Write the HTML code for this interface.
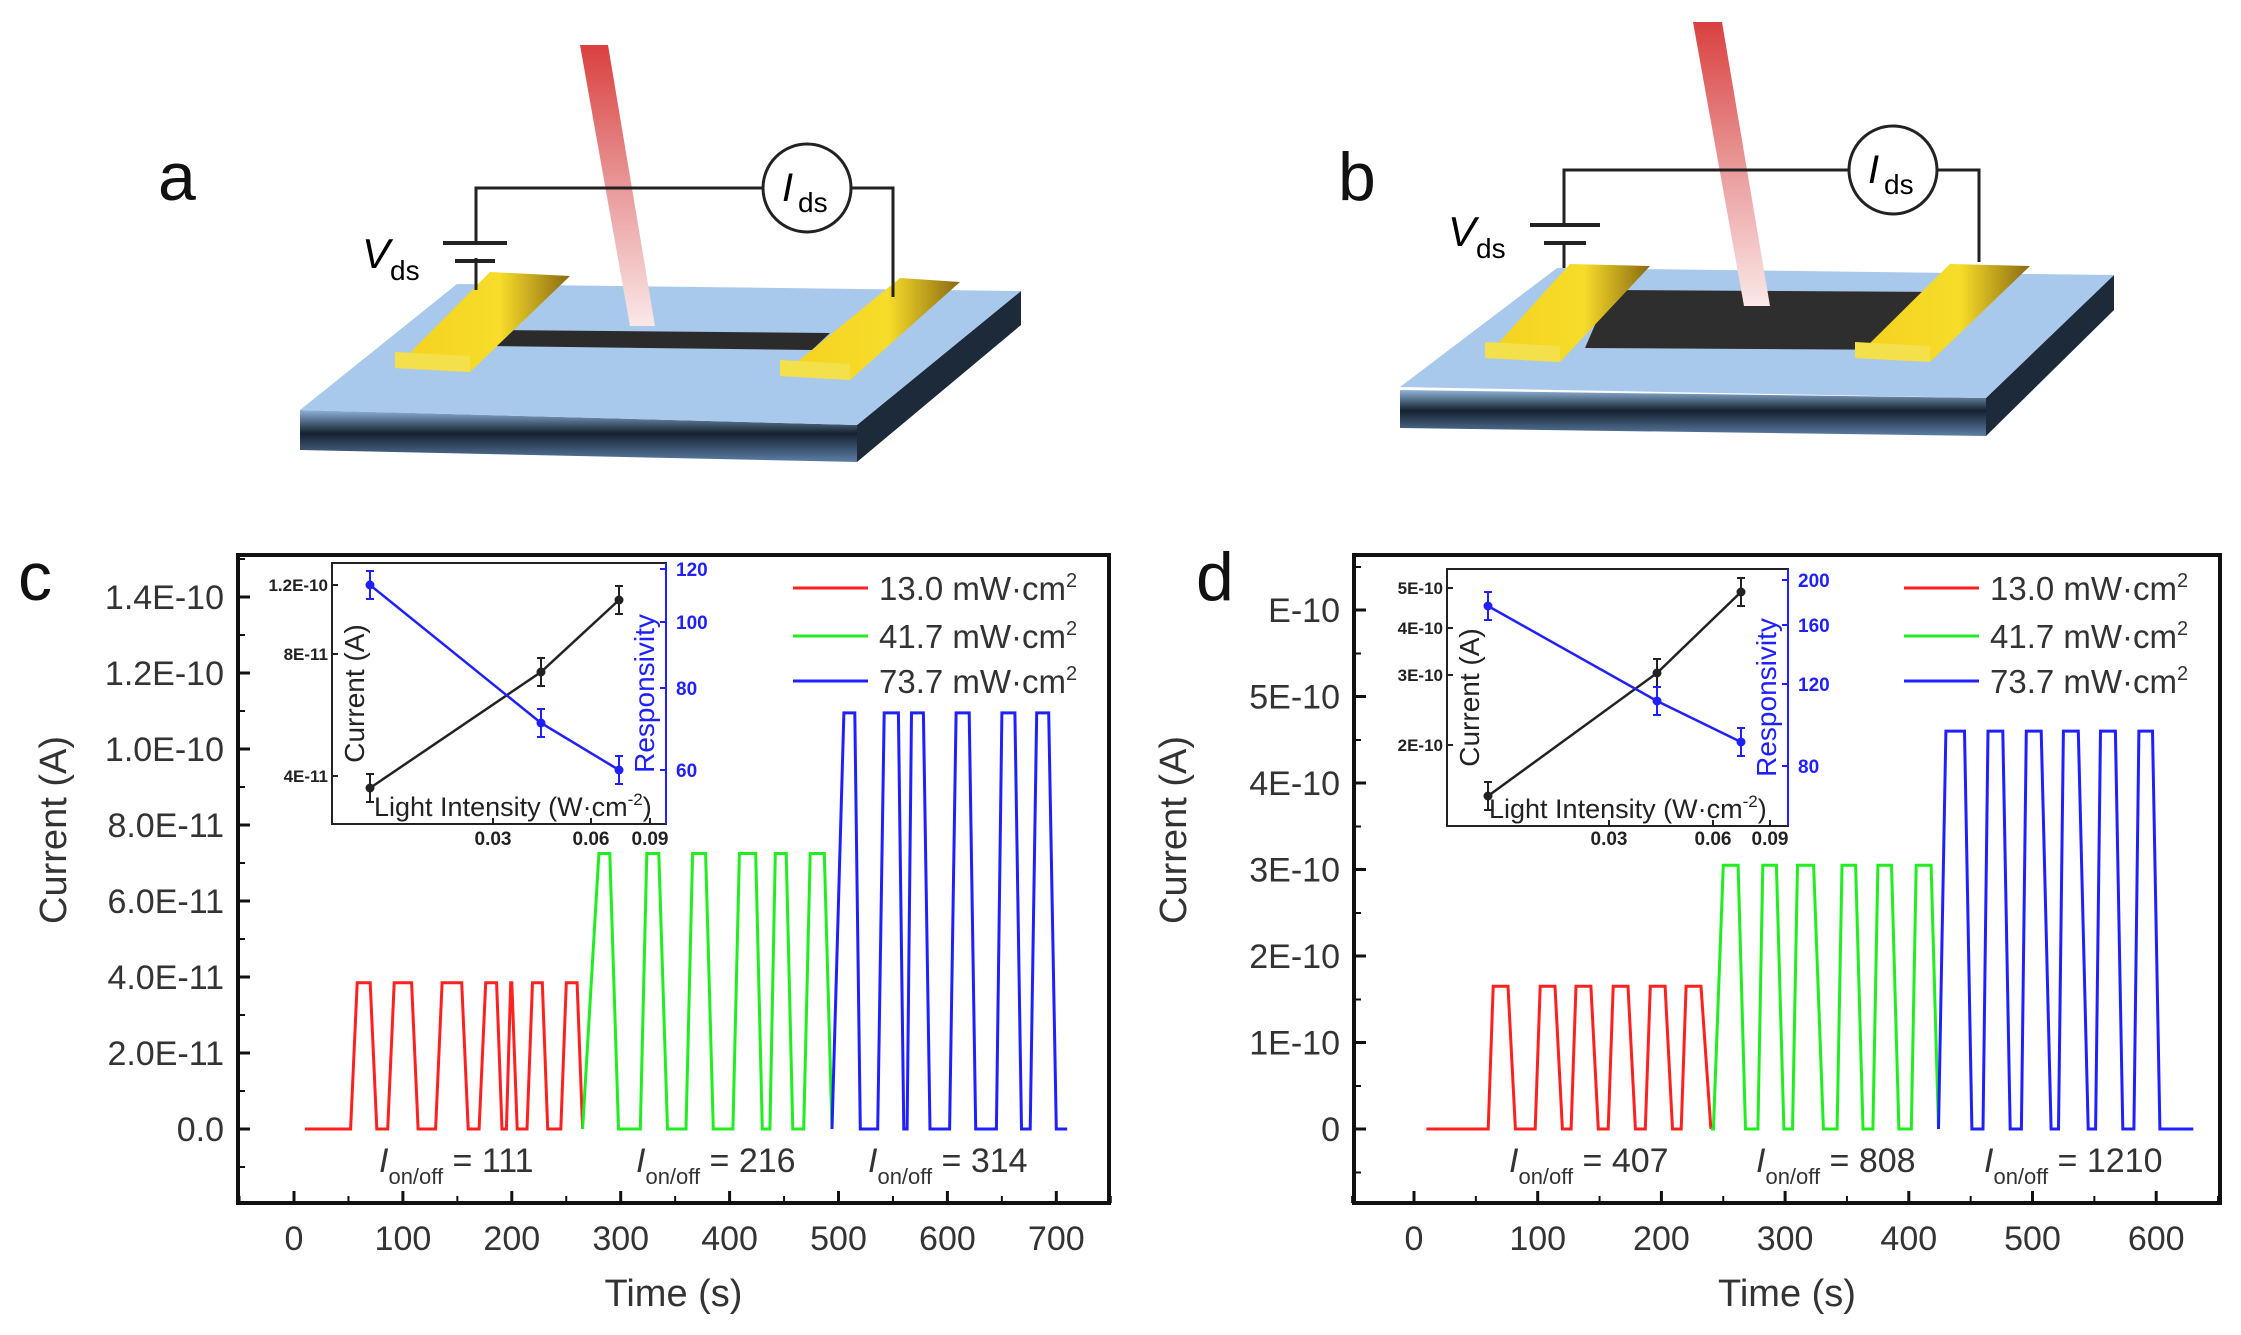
<!DOCTYPE html>
<html><head><meta charset="utf-8"><style>
html,body{margin:0;padding:0;background:#fff;}
svg{display:block;font-family:"Liberation Sans",Arial,sans-serif;}
</style></head><body>
<svg id="s" width="2241" height="1335" viewBox="0 0 2241 1335" xmlns="http://www.w3.org/2000/svg">
<defs>
<linearGradient id="beam" x1="0" y1="0" x2="0" y2="1"><stop offset="0" stop-color="#d9403f"/><stop offset="0.55" stop-color="#eaa0a0"/><stop offset="1" stop-color="#fbe8e8"/></linearGradient>
<linearGradient id="gold" x1="0" y1="0" x2="1" y2="0"><stop offset="0" stop-color="#f4d21e"/><stop offset="0.6" stop-color="#f7dc2a"/><stop offset="1" stop-color="#8a6a10"/></linearGradient>
<linearGradient id="edge" x1="0" y1="0" x2="0" y2="1"><stop offset="0" stop-color="#8fb3d9"/><stop offset="0.45" stop-color="#14202e"/><stop offset="1" stop-color="#5d7fa6"/></linearGradient>
</defs>
<g id="top">
<!-- panel a -->
<text x="158" y="200" font-size="68" fill="#111">a</text>
<polygon points="300,410 857,425 857,462 300,450" fill="url(#edge)"/>
<polygon points="857,425 1021,291 1021,325 857,462" fill="#1c2a3a"/>
<polygon points="457,284 1021,291 857,425 300,410" fill="#a9c9ec"/>
<polygon points="500,330 830,333 812,350 485,346" fill="#2b2b2b"/>
<polygon points="490,272 570,276 470,372 395,368" fill="url(#gold)"/>
<polygon points="395,352 470,356 470,372 395,368" fill="#f3e04a"/>
<polygon points="900,278 960,282 850,380 780,376" fill="url(#gold)"/>
<polygon points="780,360 850,364 850,380 780,376" fill="#f3e04a"/>
<polygon points="580,45 608,45 655,326 630,326" fill="url(#beam)"/>
<path d="M476,290 V258 M476,243 V188 H763 M851,188 H893 V297" stroke="#222" stroke-width="3" fill="none"/>
<path d="M443,243 H507 M455,261 H495" stroke="#222" stroke-width="4"/>
<path d="M476,261 V290" stroke="#222" stroke-width="3"/>
<circle cx="807" cy="188" r="44" fill="#fff" stroke="#222" stroke-width="3"/>
<text x="782" y="201" font-size="40" font-style="italic">I</text><text x="798" y="212" font-size="28">ds</text>
<text x="362" y="268" font-size="42" font-style="italic">V</text><text x="390" y="280" font-size="28">ds</text>
<!-- panel b -->
<text x="1338" y="200" font-size="68" fill="#111">b</text>
<polygon points="1400,390 1986,398 1986,436 1400,428" fill="url(#edge)"/>
<polygon points="1986,398 2114,275 2114,310 1986,436" fill="#1c2a3a"/>
<polygon points="1557,268 2114,275 1986,398 1400,387" fill="#a9c9ec"/>
<polygon points="1610,290 1950,292 1930,350 1585,348" fill="#2e2e2e"/>
<polygon points="1570,264 1650,266 1560,362 1485,358" fill="url(#gold)"/>
<polygon points="1485,342 1560,346 1560,362 1485,358" fill="#f3e04a"/>
<polygon points="1950,264 2030,266 1930,362 1855,358" fill="url(#gold)"/>
<polygon points="1855,342 1930,346 1930,362 1855,358" fill="#f3e04a"/>
<polygon points="1693,22 1722,22 1770,306 1744,306" fill="url(#beam)"/>
<path d="M1564,268 V243 M1564,225 V170 H1849 M1937,170 H1979 V262" stroke="#222" stroke-width="3" fill="none"/>
<path d="M1530,225 H1600 M1544,243 H1586" stroke="#222" stroke-width="4"/>
<circle cx="1893" cy="170" r="44" fill="#fff" stroke="#222" stroke-width="3"/>
<text x="1868" y="183" font-size="40" font-style="italic">I</text><text x="1884" y="194" font-size="28">ds</text>
<text x="1448" y="246" font-size="42" font-style="italic">V</text><text x="1476" y="258" font-size="28">ds</text>
</g>
<g id="charts"></g>
</svg>
<script>
var NS="http://www.w3.org/2000/svg",G=document.getElementById('charts');
function el(t,a,txt){var e=document.createElementNS(NS,t);for(var k in a)e.setAttribute(k,a[k]);if(txt!==undefined)e.textContent=txt;G.appendChild(e);return e;}
function tx(x,y,s,size,anchor,fill,extra){var a={x:x,y:y,'font-size':size,'text-anchor':anchor||'start',fill:fill||'#333'};for(var k in extra)a[k]=extra[k];return el('text',a,s);}
function trace(pulses,level,t0,t1,X,Y,col){var p=[[t0,0]];pulses.forEach(function(q){p.push([q[0],0],[q[1],level],[q[2],level],[q[3],0]);});p.push([t1,0]);
 el('polyline',{points:p.map(function(v){return X(v[0]).toFixed(1)+','+Y(v[1]).toFixed(1)}).join(' '),fill:'none',stroke:col,'stroke-width':3});}
function panel(o){
 var L=o.L,R=o.R,T=555,B=1203;
 el('rect',{x:L,y:T,width:R-L,height:B-T,fill:'none',stroke:'#111','stroke-width':4});
 tx(o.lx,o.ly,o.label,68,'start','#111');
 // y ticks
 o.yt.forEach(function(v){el('line',{x1:L,y1:v[0],x2:L+12,y2:v[0],stroke:'#111','stroke-width':3});tx(L-14,v[0]+12,v[1],34,'end');});
 o.ym.forEach(function(y){el('line',{x1:L,y1:y,x2:L+7,y2:y,stroke:'#111','stroke-width':2});});
 o.xt.forEach(function(v){el('line',{x1:v[0],y1:B,x2:v[0],y2:B-12,stroke:'#111','stroke-width':3});tx(v[0],1250,v[1],34,'middle');});
 o.xm.forEach(function(x){el('line',{x1:x,y1:B,x2:x,y2:B-7,stroke:'#111','stroke-width':2});});
 tx((L+R)/2,1306,'Time (s)',38,'middle');
 var t=tx(0,0,'Current (A)',38,'middle');t.setAttribute('transform','translate('+o.yx+',830) rotate(-90)');
 // legend
 [['#ff2020','13.0'],['#20ee20','41.7'],['#2020ff','73.7']].forEach(function(c,i){var y=[588,636,681][i];
  el('line',{x1:R-316,y1:y,x2:R-241,y2:y,stroke:c[0],'stroke-width':3});
  var e=tx(R-230,y+12,c[1]+' mW\u00b7cm',33,'start');var s=document.createElementNS(NS,'tspan');s.setAttribute('dy','-13');s.setAttribute('font-size','20');s.textContent='2';e.appendChild(s);});
 // traces
 o.tr.forEach(function(r){trace(r[0],r[1],r[2],r[3],o.X,o.Y,r[4]);});
 // on/off
 o.on.forEach(function(v){var e=tx(v[0],1172,'',34,'start');
  var a=document.createElementNS(NS,'tspan');a.setAttribute('font-style','italic');a.textContent='I';e.appendChild(a);
  var b=document.createElementNS(NS,'tspan');b.setAttribute('font-size','22');b.setAttribute('dy','12');b.textContent='on/off';e.appendChild(b);
  var c=document.createElementNS(NS,'tspan');c.setAttribute('dy','-12');c.textContent=' = '+v[1];e.appendChild(c);});
 // inset
 var I=o.inset;
 el('rect',{x:I.L,y:I.T,width:I.R-I.L,height:I.B-I.T,fill:'#fff',stroke:'#222','stroke-width':2});
 el('line',{x1:I.R,y1:I.T,x2:I.R,y2:I.B,stroke:'#2020ff','stroke-width':2});
 I.lt.forEach(function(v){el('line',{x1:I.L,y1:v[0],x2:I.L+6,y2:v[0],stroke:'#222','stroke-width':2});tx(I.L-4,v[0]+6,v[1],17,'end','#222',{'font-weight':'bold'});});
 I.rt.forEach(function(v){el('line',{x1:I.R,y1:v[0],x2:I.R-6,y2:v[0],stroke:'#2020ff','stroke-width':2});tx(I.R+10,v[0]+7,v[1],19,'start','#2020ff',{'font-weight':'bold'});});
 I.xt.forEach(function(v){el('line',{x1:v[0],y1:I.B,x2:v[0],y2:I.B-6,stroke:'#222','stroke-width':2});tx(v[0],845,v[1],19,'middle','#222',{'font-weight':'bold'});});
 [['#222',I.k],['#2020ff',I.b]].forEach(function(s){el('polyline',{points:s[1].map(function(p){return p[0]+','+p[1]}).join(' '),fill:'none',stroke:s[0],'stroke-width':2.5});
  s[1].forEach(function(p){el('circle',{cx:p[0],cy:p[1],r:4.5,fill:s[0]});el('line',{x1:p[0],y1:p[1]-14,x2:p[0],y2:p[1]+14,stroke:s[0],'stroke-width':2});
   el('line',{x1:p[0]-4,y1:p[1]-14,x2:p[0]+4,y2:p[1]-14,stroke:s[0],'stroke-width':2});el('line',{x1:p[0]-4,y1:p[1]+14,x2:p[0]+4,y2:p[1]+14,stroke:s[0],'stroke-width':2});});});
 var a=tx(0,0,'Current (A)',28,'middle','#222');a.setAttribute('transform','translate('+(I.L+32)+','+((I.T+I.B)/2)+') rotate(-90)');
 var b=tx(0,0,'Responsivity',28,'middle','#2020ff');b.setAttribute('transform','translate('+(I.R-12)+','+((I.T+I.B)/2)+') rotate(-90)');
 var e=tx(I.L+42,I.B-8,'Light Intensity (W\u00b7cm',27,'start','#222');var s1=document.createElementNS(NS,'tspan');s1.setAttribute('dy','-11');s1.setAttribute('font-size','17');s1.textContent='-2';e.appendChild(s1);
 var s2=document.createElementNS(NS,'tspan');s2.setAttribute('dy','11');s2.textContent=')';e.appendChild(s2);
}
// panel c
var Xc=function(t){return 294+t*1.089},Yc=function(v){return 1129-v*3.8};
var yt=[],ym=[];for(var i=0;i<=7;i++){yt.push([1129-76*i,i==0?'0.0':['','2.0E-11','4.0E-11','6.0E-11','8.0E-11','1.0E-10','1.2E-10','1.4E-10'][i]]);}
for(var i=-1;i<8;i++)ym.push(1129-76*i-38);
var xt=[],xm=[];for(var i=0;i<=7;i++){xt.push([Xc(i*100),String(i*100)]);}for(var i=-1;i<=7;i++)xm.push(Xc(i*100+50));
panel({L:238,R:1109,lx:18,ly:600,label:'c',yx:66,X:Xc,Y:Yc,yt:yt,ym:ym,xt:xt,xm:xm,
 tr:[[[[52,58,70,76],[86,92,108,114],[130,136,154,160],[170,176,186,191],[195,199,200,205],[214,219,228,233],[245,250,260,265]],38.5,10,265,'#ff2020'],
     [[[265,280,290,298],[318,324,335,343],[360,366,378,385],[403,409,424,430],[437,442,452,458],[468,474,487,494]],72.5,265,494,'#20ee20'],
     [[[494,505,515,520],[536,542,555,560],[563,567,578,584],[602,608,620,626],[645,650,662,668],[676,682,693,700]],109.5,494,710,'#2020ff']],
 on:[[379,'111'],[636,'216'],[868,'314']],
 inset:{L:332,R:666,T:563,B:824,lt:[[585,'1.2E-10'],[654,'8E-11'],[776,'4E-11']],rt:[[569,'120'],[622,'100'],[688,'80'],[770,'60']],
  xt:[[493,'0.03'],[591,'0.06'],[650,'0.09']],k:[[370,788],[541,672],[619,600]],b:[[370,585],[541,723],[619,770]]}});
// panel d
var Xd=function(t){return 1414+t*1.237},Yd=function(v){return 1129-v*86.5};
yt=[];ym=[];for(var i=0;i<=6;i++){yt.push([1129-86.5*i,i==0?'0':(i==6?'E-10':i+'E-10')]);}
for(var i=-1;i<7;i++)ym.push(1129-86.5*i-43);
xt=[];xm=[];for(var i=0;i<=6;i++){xt.push([Xd(i*100),String(i*100)]);}for(var i=-1;i<=6;i++)xm.push(Xd(i*100+50));
panel({L:1354,R:2220,lx:1196,ly:600,label:'d',yx:1186,X:Xd,Y:Yd,yt:yt,ym:ym,xt:xt,xm:xm,
 tr:[[[[60,64,76,82],[98,102,114,120],[127,131,143,149],[157,161,173,179],[187,191,203,209],[216,220,232,240]],1.65,10,240,'#ff2020'],
     [[[242,250,262,268],[278,282,293,299],[306,310,323,331],[342,346,357,363],[371,375,386,392],[402,406,418,424]],3.05,240,424,'#20ee20'],
     [[[424,430,445,451],[460,464,476,482],[491,495,507,515],[521,525,537,545],[551,555,567,573],[582,586,597,603]],4.6,424,630,'#2020ff']],
 on:[[1509,'407'],[1756,'808'],[1984,'1210']],
 inset:{L:1447,R:1788,T:569,B:826,lt:[[588,'5E-10'],[628,'4E-10'],[675,'3E-10'],[745,'2E-10']],rt:[[580,'200'],[625,'160'],[684,'120'],[766,'80']],
  xt:[[1609,'0.03'],[1713,'0.06'],[1770,'0.09']],k:[[1488,796],[1657,673],[1741,592]],b:[[1488,606],[1657,701],[1741,742]]}});
</script>
</body></html>
